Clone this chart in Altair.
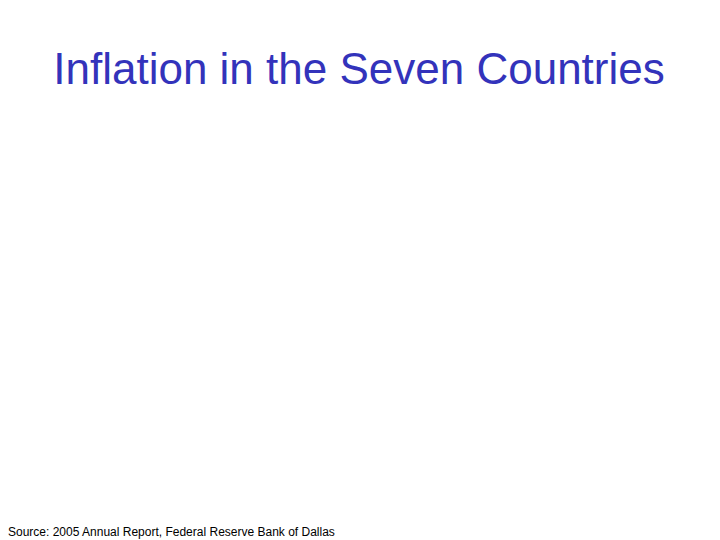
import altair as alt
import pandas as pd

# Texts of the slide
title_text = ["Inflation in the Seven Countries"]
source_text = ["Source: 2005 Annual Report, Federal Reserve Bank of Dallas"]

df_title = pd.DataFrame({"label": title_text})
df_source = pd.DataFrame({"label": source_text})

title = alt.Chart(df_title).mark_text(
    font="Liberation Sans",
    fontSize=44,
    color="#3333BB",
    align="center",
    baseline="alphabetic",
).encode(
    x=alt.value(351),
    y=alt.value(76),
    text="label:N",
)

source = alt.Chart(df_source).mark_text(
    font="Liberation Sans",
    fontSize=12,
    color="#000000",
    align="left",
    baseline="alphabetic",
).encode(
    x=alt.value(0),
    y=alt.value(528),
    text="label:N",
)

chart = alt.layer(title, source).properties(
    width=704,
    height=532,
    padding=0,
    autosize="none",
    background="#FFFFFF",
).configure_view(stroke=None)

chart.save("out.html", embed_options={"renderer": "svg", "actions": False})
